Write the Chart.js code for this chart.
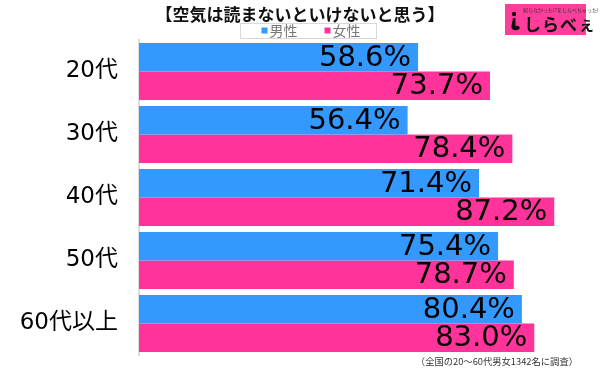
<!DOCTYPE html>
<html>
<head>
<meta charset="utf-8">
<script src="https://cdn.jsdelivr.net/npm/chart.js@4"></script>
<style>
  html, body { margin: 0; padding: 0; background: #fff; }
  #wrap { position: relative; width: 600px; height: 368px; }
  #logo {
    position: absolute; left: 505px; top: 4px; width: 81px; height: 31px;
    background: #ff3d9a; font-family: 'Noto Sans CJK JP', sans-serif;
  }
  #logo .sub { position: absolute; left: 18px; top: 2px; font-size: 5px; color: #333; white-space: nowrap; }
  #logo .main { position: absolute; left: 19px; top: 7px; font-size: 17px; font-weight: bold; color: #111; letter-spacing: 1px; white-space: nowrap; }
  #logo .icon { position: absolute; left: 5px; top: 7px; width: 11px; height: 20px; }
  #note {
    position: absolute; right: 22px; top: 354px; font-size: 9.3px; color: #333;
    font-family: 'Noto Sans CJK JP', sans-serif; white-space: nowrap;
  }
</style>
</head>
<body>
<div id="wrap">
  <canvas id="chart" width="600" height="368"></canvas>
  <div id="logo">
    <svg class="icon" viewBox="0 0 11 20"><circle cx="4" cy="3" r="2.2" fill="#111"/><path d="M3 7 L5.5 7 L5.5 15 Q9 14 10 17 Q8 20 4 19 Q1 18 1.5 15 Z" fill="#111"/></svg>
    <div class="sub">知らなかった!?をしらべちゃった!</div>
    <div class="main">しらべぇ</div>
  </div>
  <div id="note">（全国の20〜60代男女1342名に調査）</div>
</div>
<script>
const categories = ['20代', '30代', '40代', '50代', '60代以上'];
const seriesNames = ['男性', '女性'];
const male = [58.6, 56.4, 71.4, 75.4, 80.4];
const female = [73.7, 78.4, 87.2, 78.7, 83.0];
const colors = ['#3399ff', '#ff3399'];

// labels drawn inside the end of each bar
const valueLabels = {
  id: 'valueLabels',
  afterDatasetsDraw(chart) {
    const ctx = chart.ctx;
    ctx.save();
    ctx.font = '29px "DejaVu Sans", sans-serif';
    ctx.fillStyle = '#000';
    ctx.textAlign = 'right';
    ctx.textBaseline = 'middle';
    chart.data.datasets.forEach((ds, i) => {
      chart.getDatasetMeta(i).data.forEach((bar, j) => {
        ctx.fillText(ds.data[j].toFixed(1) + '%', bar.x - 7, bar.y + 1);
      });
    });
    ctx.restore();
  }
};

// small boxed legend under the title
const boxLegend = {
  id: 'boxLegend',
  afterDraw(chart) {
    const ctx = chart.ctx;
    const cx = 308, cy = 30.5;
    ctx.save();
    ctx.strokeStyle = '#d9d9d9';
    ctx.lineWidth = 1;
    ctx.strokeRect(cx - 68 + 0.5, cy - 7.5 + 0.5, 136, 15);
    ctx.font = '14px "Noto Sans CJK JP", sans-serif';
    ctx.textBaseline = 'middle';
    const items = chart.data.datasets.map(d => ({ text: d.label, color: d.backgroundColor }));
    const widths = items.map(it => 6 + 2 + ctx.measureText(it.text).width);
    const gap = 27;
    let x = cx + 3 - (widths.reduce((a, b) => a + b, 0) + gap * (items.length - 1)) / 2;
    items.forEach((it, i) => {
      ctx.fillStyle = it.color;
      ctx.fillRect(x, cy - 3, 6, 6);
      ctx.fillStyle = '#777';
      ctx.fillText(it.text, x + 8, cy + 0.5);
      x += widths[i] + gap;
    });
    ctx.restore();
  }
};

new Chart(document.getElementById('chart').getContext('2d'), {
  type: 'bar',
  data: {
    labels: categories,
    datasets: [
      { label: seriesNames[0], data: male, backgroundColor: colors[0], borderWidth: 0 },
      { label: seriesNames[1], data: female, backgroundColor: colors[1], borderWidth: 0 }
    ]
  },
  options: {
    indexAxis: 'y',
    responsive: false,
    animation: false,
    layout: { padding: { left: 0, right: 0, top: 0, bottom: 13 } },
    datasets: { bar: { barPercentage: 1, categoryPercentage: 0.905 } },
    scales: {
      x: { display: false, min: 0, max: 96.8 },
      y: {
        grid: { display: false },
        border: { display: true, color: '#dcdcdc', width: 2 },
        ticks: {
          color: '#000',
          padding: 13,
          font: { family: '"DejaVu Sans", "Noto Sans CJK JP", sans-serif', size: 23 }
        },
        afterFit(scale) {
          scale.width = 139;
          scale.paddingTop = 0;
          scale.paddingBottom = 0;
        }
      }
    },
    plugins: {
      legend: { display: false },
      tooltip: { enabled: false },
      title: {
        display: true,
        text: '【空気は読まないといけないと思う】',
        color: '#111',
        font: { family: '"Noto Sans CJK JP", sans-serif', size: 17, weight: 'bold' },
        padding: { top: 4, bottom: 15.6 }
      }
    }
  },
  plugins: [valueLabels, boxLegend]
});
</script>
</body>
</html>
